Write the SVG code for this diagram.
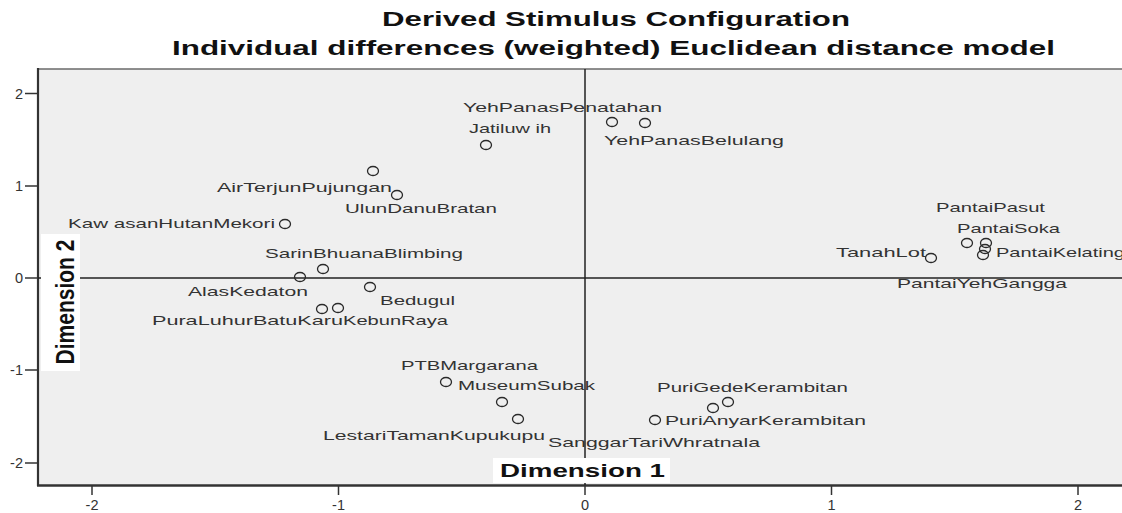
<svg xmlns="http://www.w3.org/2000/svg" width="1122" height="513" viewBox="0 0 1122 513">
<style>
.t{font-family:"Liberation Sans",Arial,sans-serif;font-weight:bold;fill:#111}
.lb{font-family:"Liberation Sans",Arial,sans-serif;font-size:13.5px;fill:#333}
.tk{font-family:"Liberation Sans",Arial,sans-serif;font-size:14.5px;fill:#333}
.pt{fill:none;stroke:#2a2a2a;stroke-width:1.3}
.ax{stroke:#222;stroke-width:1.5}
</style>
<rect width="1122" height="513" fill="#ffffff"/>
<g id="title">
<text class="t" x="382" y="26" font-size="20" textLength="468" lengthAdjust="spacingAndGlyphs">Derived Stimulus Configuration</text>
<text class="t" x="172" y="55" font-size="20" textLength="883" lengthAdjust="spacingAndGlyphs">Individual differences (weighted) Euclidean distance model</text>
</g>
<g id="plot-frame">
<rect x="38" y="69" width="1090" height="416" fill="#efefef"/>
<line x1="38" y1="69" x2="1122" y2="69" stroke="#6a6a6a" stroke-width="1.5"/>
<line x1="38" y1="68" x2="38" y2="486" stroke="#333" stroke-width="2.2"/>
<line x1="37" y1="485.5" x2="1122" y2="485.5" stroke="#333" stroke-width="2.5"/>
</g>
<g id="ticks">
<g stroke="#333" stroke-width="1.5">
<line x1="25" y1="93.5" x2="38" y2="93.5"/>
<line x1="25" y1="186" x2="38" y2="186"/>
<line x1="25" y1="278" x2="38" y2="278"/>
<line x1="25" y1="370" x2="38" y2="370"/>
<line x1="25" y1="463" x2="38" y2="463"/>
<line x1="92" y1="485" x2="92" y2="495"/>
<line x1="338.5" y1="485" x2="338.5" y2="495"/>
<line x1="585" y1="485" x2="585" y2="495"/>
<line x1="831.5" y1="485" x2="831.5" y2="495"/>
<line x1="1078" y1="485" x2="1078" y2="495"/>
</g>
<text class="tk" x="23" y="98.5" text-anchor="end">2</text>
<text class="tk" x="23" y="191" text-anchor="end">1</text>
<text class="tk" x="23" y="283" text-anchor="end">0</text>
<text class="tk" x="23" y="375" text-anchor="end">-1</text>
<text class="tk" x="23" y="468" text-anchor="end">-2</text>
<text class="tk" x="92" y="510" text-anchor="middle">-2</text>
<text class="tk" x="338.5" y="510" text-anchor="middle">-1</text>
<text class="tk" x="585" y="510" text-anchor="middle">0</text>
<text class="tk" x="831.5" y="510" text-anchor="middle">1</text>
<text class="tk" x="1078" y="510" text-anchor="middle">2</text>
</g>
<g id="connectors">
<line class="ax" x1="585" y1="69" x2="585" y2="485"/>
<line class="ax" x1="38" y1="278" x2="1122" y2="278"/>
</g>
<g id="axis-titles">
<rect x="493" y="458" width="177" height="25" fill="#ffffff"/>
<text class="t" x="500" y="477" font-size="19" textLength="165" lengthAdjust="spacingAndGlyphs">Dimension 1</text>
<rect x="41" y="234" width="39" height="137" fill="#ffffff"/>
<text class="t" font-size="21" text-anchor="middle" textLength="125" lengthAdjust="spacingAndGlyphs" transform="translate(74,302) rotate(-90) scale(1,1.2)">Dimension 2</text>
</g>
<g id="points">
<ellipse class="pt" cx="373" cy="171" rx="5.5" ry="4.5"/>
<ellipse class="pt" cx="397" cy="195" rx="5.5" ry="4.5"/>
<ellipse class="pt" cx="285" cy="224" rx="5.5" ry="4.5"/>
<ellipse class="pt" cx="486" cy="145" rx="5.5" ry="4.5"/>
<ellipse class="pt" cx="612" cy="122" rx="5.5" ry="4.5"/>
<ellipse class="pt" cx="645" cy="123" rx="5.5" ry="4.5"/>
<ellipse class="pt" cx="323" cy="269" rx="5.5" ry="4.5"/>
<ellipse class="pt" cx="300" cy="277" rx="5.5" ry="4.5"/>
<ellipse class="pt" cx="370" cy="287" rx="5.5" ry="4.5"/>
<ellipse class="pt" cx="322" cy="309" rx="5.5" ry="4.5"/>
<ellipse class="pt" cx="338" cy="308" rx="5.5" ry="4.5"/>
<ellipse class="pt" cx="446" cy="382" rx="5.5" ry="4.5"/>
<ellipse class="pt" cx="502" cy="402" rx="5.5" ry="4.5"/>
<ellipse class="pt" cx="518" cy="419" rx="5.5" ry="4.5"/>
<ellipse class="pt" cx="655" cy="420" rx="5.5" ry="4.5"/>
<ellipse class="pt" cx="713" cy="408" rx="5.5" ry="4.5"/>
<ellipse class="pt" cx="728" cy="402" rx="5.5" ry="4.5"/>
<ellipse class="pt" cx="931" cy="258" rx="5.5" ry="4.5"/>
<ellipse class="pt" cx="967" cy="243" rx="5.5" ry="4.5"/>
<ellipse class="pt" cx="986" cy="243" rx="5.5" ry="4.5"/>
<ellipse class="pt" cx="985" cy="249" rx="5.5" ry="4.5"/>
<ellipse class="pt" cx="983" cy="255" rx="5.5" ry="4.5"/>
</g>
<g id="labels">
<text class="lb" x="463" y="112" textLength="199" lengthAdjust="spacingAndGlyphs">YehPanasPenatahan</text>
<text class="lb" x="469" y="133" textLength="82" lengthAdjust="spacingAndGlyphs">Jatiluw ih</text>
<text class="lb" x="604" y="145" textLength="180" lengthAdjust="spacingAndGlyphs">YehPanasBelulang</text>
<text class="lb" x="217" y="192" textLength="175" lengthAdjust="spacingAndGlyphs">AirTerjunPujungan</text>
<text class="lb" x="345" y="213" textLength="152" lengthAdjust="spacingAndGlyphs">UlunDanuBratan</text>
<text class="lb" x="68" y="228" textLength="207" lengthAdjust="spacingAndGlyphs">Kaw asanHutanMekori</text>
<text class="lb" x="936" y="212" textLength="109" lengthAdjust="spacingAndGlyphs">PantaiPasut</text>
<text class="lb" x="957" y="233" textLength="103" lengthAdjust="spacingAndGlyphs">PantaiSoka</text>
<text class="lb" x="836" y="257" textLength="90" lengthAdjust="spacingAndGlyphs">TanahLot</text>
<text class="lb" x="996" y="257" textLength="129" lengthAdjust="spacingAndGlyphs">PantaiKelating</text>
<text class="lb" x="897" y="288" textLength="170" lengthAdjust="spacingAndGlyphs">PantaiYehGangga</text>
<text class="lb" x="265" y="258" textLength="198" lengthAdjust="spacingAndGlyphs">SarinBhuanaBlimbing</text>
<text class="lb" x="188" y="296" textLength="120" lengthAdjust="spacingAndGlyphs">AlasKedaton</text>
<text class="lb" x="380" y="305" textLength="75" lengthAdjust="spacingAndGlyphs">Bedugul</text>
<text class="lb" x="152" y="325" textLength="191" lengthAdjust="spacingAndGlyphs">PuraLuhurBatuKaru</text>
<text class="lb" x="343" y="325" textLength="105" lengthAdjust="spacingAndGlyphs">KebunRaya</text>
<text class="lb" x="401" y="370" textLength="137" lengthAdjust="spacingAndGlyphs">PTBMargarana</text>
<text class="lb" x="458" y="390" textLength="137" lengthAdjust="spacingAndGlyphs">MuseumSubak</text>
<text class="lb" x="323" y="440" textLength="222" lengthAdjust="spacingAndGlyphs">LestariTamanKupukupu</text>
<text class="lb" x="548" y="447" textLength="212" lengthAdjust="spacingAndGlyphs">SanggarTariWhratnala</text>
<text class="lb" x="657" y="392" textLength="191" lengthAdjust="spacingAndGlyphs">PuriGedeKerambitan</text>
<text class="lb" x="665" y="425" textLength="201" lengthAdjust="spacingAndGlyphs">PuriAnyarKerambitan</text>
</g>
</svg>
